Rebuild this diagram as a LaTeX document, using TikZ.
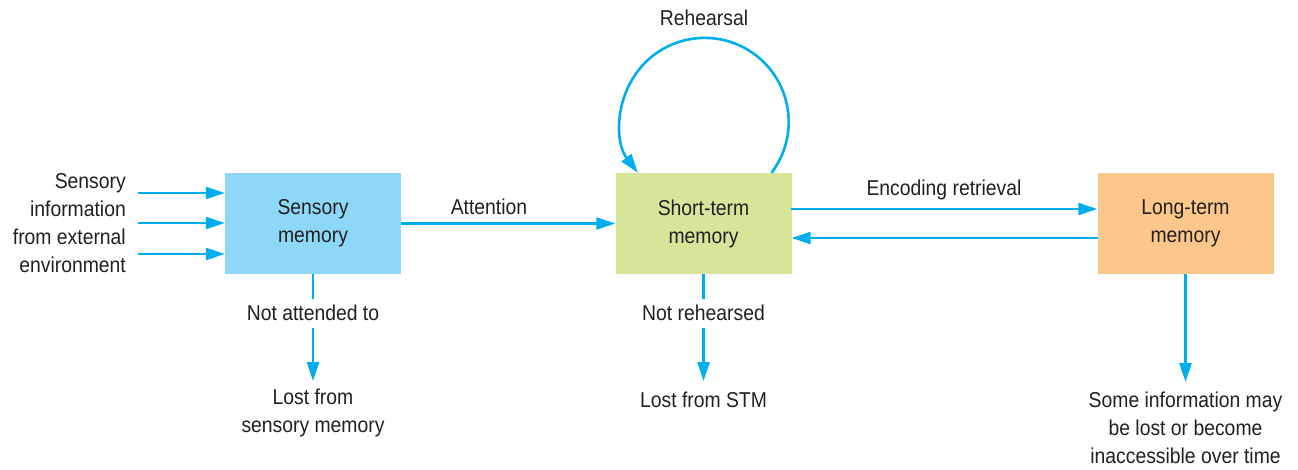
\documentclass[tikz,border=0pt]{standalone}
\usepackage{fontspec}
\setmainfont[FakeStretch=0.9]{Liberation Sans}
\usetikzlibrary{arrows.meta}
\definecolor{flow}{HTML}{00AEEF}
\definecolor{sensfill}{HTML}{8DD8F8}
\definecolor{stmfill}{HTML}{D7E59A}
\definecolor{ltmfill}{HTML}{FBC78A}
\definecolor{ink}{HTML}{231F20}
\begin{document}
\begin{tikzpicture}[x=1pt,y=1pt,
  txt/.style={font=\fontsize{21.5}{28}\selectfont, text=ink, align=center, inner sep=0pt},
  membox/.style={txt, minimum width=176pt, minimum height=101pt},
  arr/.style={draw=flow, line width=2.6pt, -{Triangle[length=19pt,width=12pt]}},
  gaplabel/.style={txt, fill=white, minimum height=29pt}
]
\useasboundingbox (0,0) rectangle (1298,469);

% memory stores
\node[membox, fill=sensfill] (sm)  at (313,245.5)  {Sensory\\memory};
\node[membox, fill=stmfill]  (stm) at (703.5,245.5) {Short-term\\memory};
\node[membox, fill=ltmfill]  (ltm) at (1185.5,245.5) {Long-term\\memory};

% external input
\node[txt, align=right, anchor=east] (input) at (126,245.5)
  {Sensory\\information\\from external\\environment};
\coordinate (in1) at (138,276);
\coordinate (in2) at (138,246);
\coordinate (in3) at (138,215);
\draw[arr] (in1) -- (in1 -| sm.west);
\draw[arr] (in2) -- (in2 -| sm.west);
\draw[arr] (in3) -- (in3 -| sm.west);

% attention
\draw[arr] (sm.east) -- (stm.west);
\node[txt] (att) at (489,262) {Attention};

% encoding / retrieval
\coordinate (enc) at (791,260);
\coordinate (ret) at (1098,231);
\draw[arr] (enc) -- (enc -| ltm.west);
\draw[arr] (ret) -- (ret -| stm.east);
\node[txt] (encl) at (944,279) {Encoding retrieval};

% rehearsal loop
\draw[arr] ([xshift=68pt]stm.north) arc[start angle=-37.3, end angle=217.3, radius=84pt];
\node[txt] (reh) at (704,451) {Rehearsal};

% losses
\node[txt] (lost1) at (313,56) {Lost from\\sensory memory};
\node[txt] (lost2) at (703.5,69) {Lost from STM};
\node[txt] (lost3) at (1185.5,41) {Some information may\\be lost or become\\inaccessible over time};
\coordinate (tip1) at (313,88);
\coordinate (tip2) at (703.5,88);
\coordinate (tip3) at (1185.5,87);

\draw[arr] (sm.south) -- (tip1);
\node[gaplabel] (na) at (313,156) {Not attended to};
\draw[arr] (stm.south) -- (tip2);
\node[gaplabel] (nr) at (703.5,156) {Not rehearsed};
\draw[arr] (ltm.south) -- (tip3);
\end{tikzpicture}
\end{document}
